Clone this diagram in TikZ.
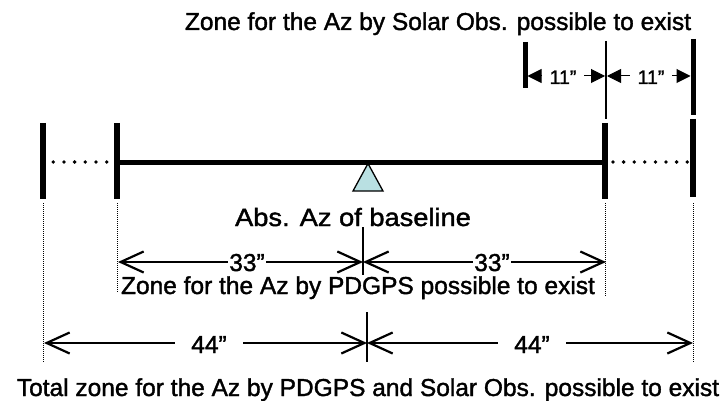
\documentclass[tikz,border=0pt]{standalone}
\usepackage{fontspec}
\setmainfont{Liberation Sans}
\newfontfamily\heavyfam{Liberation Sans}[FakeBold=1.5]
\usetikzlibrary{arrows.meta,calc}
\definecolor{trifill}{RGB}{185,224,226}
\newcommand\bigf{\heavyfam\fontsize{24.5}{29}\selectfont}
\newcommand\smallf{\heavyfam\fontsize{19.5}{23}\selectfont}
\begin{document}
\begin{tikzpicture}[x=1pt,y=-1pt,
  bar/.style={line width=6pt},
  topbar/.style={line width=5pt},
  thinbar/.style={line width=2pt},
  baseln/.style={line width=5pt},
  guide/.style={line width=0.8pt, dash pattern=on 1pt off 1pt},
  dotmark/.style={fill=black},
  dim/.style={line width=2.2pt, {Straight Barb[length=23pt,width=21pt]}-{Straight Barb[length=23pt,width=21pt]}},
  smalldim/.style={line width=1pt, {Triangle[length=14pt,width=14pt]}-{Triangle[length=14pt,width=14pt]}},
  tick/.style={line width=2pt},
  txt/.style={font=\bigf, inner sep=0pt, anchor=base},
  lbl/.style={font=\bigf, fill=white, inner xsep=1pt, inner ysep=0pt, anchor=base},
  wlbl/.style={font=\bigf, fill=white, inner xsep=16pt, inner ysep=0pt, anchor=base},
  slbl/.style={font=\smallf, fill=white, inner xsep=8pt, inner ysep=1pt, anchor=base}]
\useasboundingbox (0,0) rectangle (728,401);

% key positions
\coordinate (LO) at (43,162);
\coordinate (LI) at (117,162);
\coordinate (RI) at (605,162);
\coordinate (RO) at (693,162);

% vertical guide lines
\draw[guide] (43,203) -- (43,362);
\draw[guide] (117,203) -- (117,292);
\draw[guide] (605,203) -- (605,297);
\draw[guide] (693,203) -- (693,362);

% main bars
\draw[bar] (43,123) -- (43,199);
\draw[bar] (117,123) -- (117,199);
\draw[bar] (605,123) -- (605,199);
\draw[bar] (693,119) -- (693,197);
\draw[baseln] (LI) -- (RI);

% dotted extensions
\foreach \i in {0,...,5} \fill[dotmark] (53.3+10.67*\i,162) circle (1.9);
\foreach \i in {0,...,7} \fill[dotmark] (613+10.6*\i,162) circle (1.9);

% triangle
\draw[line width=1.3pt, fill=trifill] (353,191) -- (383,191) -- (368,163.5) -- cycle;

% top zone
\draw[topbar] (525,42) -- (525,88);
\draw[thinbar] (606,41) -- (606,119);
\draw[topbar] (693,39) -- (693,115);
\coordinate (t1) at (527.5,76);
\coordinate (t2) at (605,76);
\coordinate (t2b) at (607,76);
\coordinate (t3) at (690.5,76);
\draw[smalldim] (t1) -- (t2);
\draw[smalldim] (t2b) -- (t3);
\node[slbl] (l11a) at (563,84) {11”};
\node[slbl] (l11b) at (651,84) {11”};

% PDGPS zone
\coordinate (a1) at (118,262);
\coordinate (c1) at (363,262);
\coordinate (b1) at (606,262);
\draw[tick] (363,227) -- (363,275);
\draw[dim] (a1) -- (c1);
\draw[dim] (c1) -- (b1);
\node[lbl] (l33a) at (247,271) {33”};
\node[lbl] (l33b) at (492,271) {33”};

% total zone
\coordinate (a2) at (44,343);
\coordinate (c2) at (367,343);
\coordinate (b2) at (693,343);
\draw[tick] (367,312) -- (367,362);
\draw[dim] (a2) -- (c2);
\draw[dim] (c2) -- (b2);
\node[wlbl] (l44a) at (209,353) {44”};
\node[wlbl] (l44b) at (532,353) {44”};

% texts
\node[txt] (ttop) at (438,30) {Zone for the Az by Solar Obs. possible to exist};
\node[txt] (tabs) at (353,226) {\heavyfam\fontsize{25}{29}\selectfont\scalebox{1.09}[1]{Abs. Az of baseline}};
\node[txt] (tpd) at (358,294) {Zone for the Az by PDGPS possible to exist};
\node[txt] (tbot) at (368,396) {Total zone for the Az by PDGPS and Solar Obs. possible to exist};
\end{tikzpicture}
\end{document}
